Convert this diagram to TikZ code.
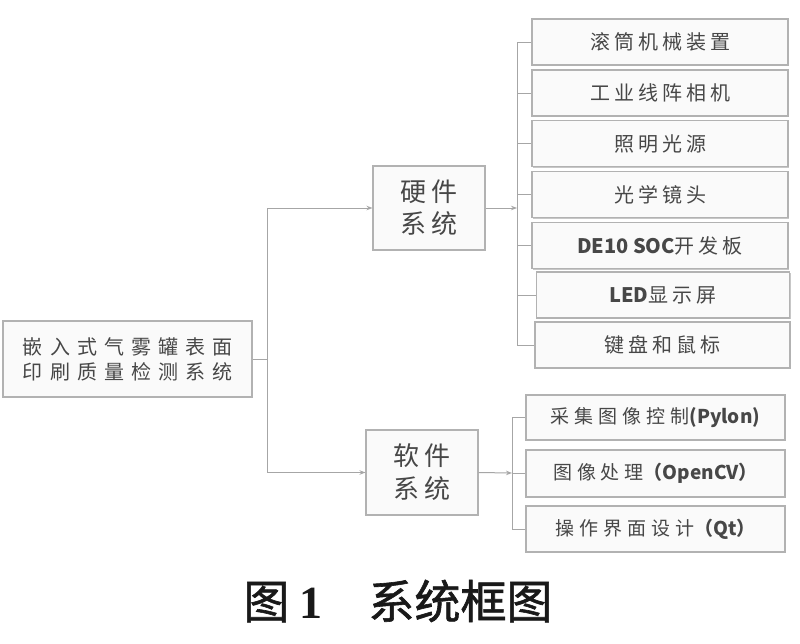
\documentclass[tikz,border=0pt]{standalone}
\usepackage{fontspec}
\setmainfont{Noto Sans CJK SC}
\newfontfamily\cjkA[LetterSpace=20]{Noto Sans CJK SC}
\newfontfamily\cjkB[LetterSpace=35]{Noto Sans CJK SC}
\newfontfamily\cjkC[LetterSpace=23]{Noto Sans CJK SC}
\newfontfamily\cjkD[LetterSpace=26]{Noto Sans CJK SC}
\newfontfamily\latf{Noto Sans CJK SC}
\newfontfamily\capfont[FakeBold=1.3]{Noto Sans CJK SC}
\newfontfamily\numfont{Liberation Serif}
\usetikzlibrary{arrows.meta,shadows}
\tikzset{
  box/.style={draw=gray!60, line width=1.1pt, fill=gray!4, inner sep=0pt,
    text=black!72, align=center,
    drop shadow={shadow xshift=1pt, shadow yshift=-1.3pt, fill=gray!55, opacity=0.8}},
  hwitem/.style={box, minimum width=256pt, minimum height=46pt,
    font=\fontsize{20}{24}\cjkA},
  switem/.style={box, minimum width=259pt, minimum height=46pt,
    font=\fontsize{19}{24}\cjkD},
  subsys/.style={box, minimum width=112pt, minimum height=84pt,
    font=\fontsize{26}{32}\cjkC},
  conn/.style={draw=gray!70, line width=1pt},
  arr/.style={conn, -{Stealth[length=6pt,width=4.5pt]}},
}
\begin{document}
\begin{tikzpicture}[x=1pt,y=-1pt]
\useasboundingbox[fill=white] (0,0) rectangle (800,643);

\node[box, minimum width=249pt, minimum height=76pt,
  font=\fontsize{20}{25}\cjkB] (main) at (127.5,359) {嵌入式气雾罐表面\\印刷质量检测系统};

\node[subsys] (hw) at (429,208) {硬件\\系统};
\node[subsys, minimum height=85pt, font=\fontsize{26}{33}\cjkC] (sw) at (422,472.5) {软件\\系统};

\node[hwitem] (h1) at (660,42) {滚筒机械装置};
\node[hwitem] (h2) at (660,93) {工业线阵相机};
\node[hwitem] (h3) at (660,143.5) {照明光源};
\node[hwitem] (h4) at (660,194.5) {光学镜头};
\node[hwitem] (h5) at (660,245.5) {{\latf\bfseries DE10 SOC}开发板};
\node[hwitem, minimum width=253pt] (h6) at (663,295) {{\latf\bfseries LED}显示屏};
\node[hwitem, minimum width=255pt] (h7) at (662.5,345) {键盘和鼠标};

\node[switem, minimum height=45pt] (s1) at (655.5,417.5) {采集图像控制{\latf\bfseries (Pylon)}};
\node[switem, minimum height=47pt] (s2) at (655.5,473.5) {图像处理{\latf\bfseries （OpenCV）}};
\node[switem] (s3) at (655.5,529) {操作界面设计{\latf\bfseries （Qt）}};

% main to subsystems
\coordinate (mb) at (267,359);
\draw[conn] (main.east) -- (mb);
\draw[arr] (mb) |- (hw.west);
\draw[arr] (mb) |- (sw.west);

% hardware bus
\coordinate (hb) at (517,208);
\draw[arr] (hw.east) -- (hb);
\foreach \n in {h1,h2,h3,h4,h5,h6,h7}{
  \draw[conn] (hb) |- (\n.west);
}

% software bus
\coordinate (sb) at (512,473);
\draw[arr] (sw.east) -- (sb);
\foreach \n in {s1,s2,s3}{
  \draw[conn] (sb) |- (\n.west);
}

\node[font=\fontsize{46}{50}\selectfont, text=black!90] (cap) at (398,601)
  {{\capfont 图}\hspace{10pt}{\numfont\bfseries 1}\hspace{46pt}{\capfont 系统框图}};
\end{tikzpicture}
\end{document}
